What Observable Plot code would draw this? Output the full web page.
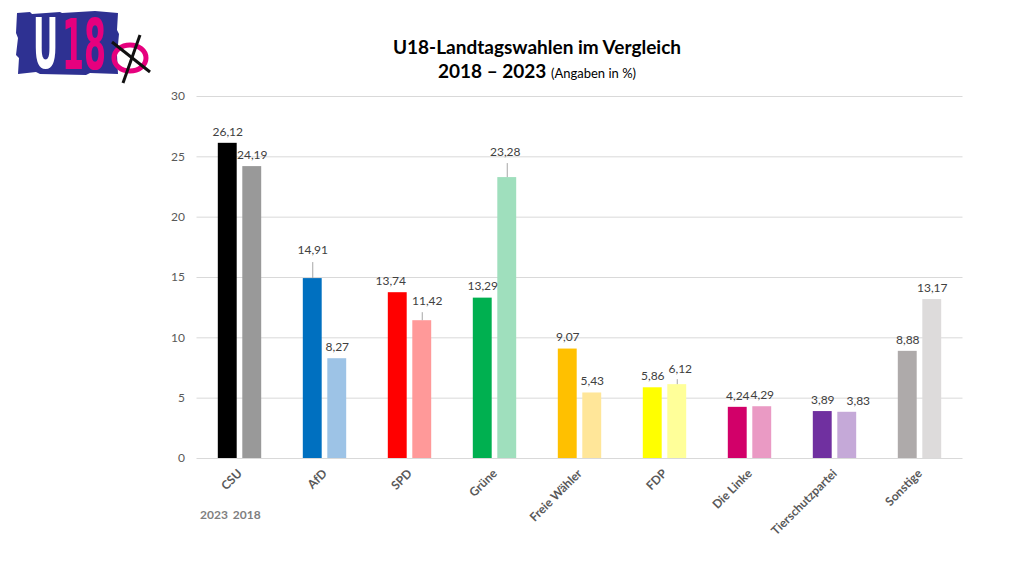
<!DOCTYPE html>
<html><head><meta charset="utf-8">
<script src="https://cdn.jsdelivr.net/npm/d3@7"></script>
<script src="https://cdn.jsdelivr.net/npm/@observablehq/plot@0.6"></script>
<style>
body{margin:0;background:#fff;font-family:Lato,"Open Sans",sans-serif;}
#wrap{position:relative;width:1024px;height:568px;overflow:hidden;}
#chart{position:absolute;left:0;top:0;}
#logo{position:absolute;left:0;top:0;}
#title{position:absolute;left:537px;top:35px;transform:translateX(-50%);text-align:center;color:#000;font-weight:bold;font-size:19px;line-height:24px;white-space:nowrap;}
#title .sub{font-weight:normal;font-size:13px;}
#years{position:absolute;left:200px;top:507px;font-size:12px;font-weight:bold;color:#7f7f7f;word-spacing:2px;}
</style></head>
<body>
<div id="wrap">
  <div id="chart"></div>
  <svg id="logo" width="170" height="90">
    <path d="M17,13 L30,12 L32,14 L60,12 L62,13 L95,11 L118,13 L117,30 L119,34 L117,55 L118,74 L90,73 L86,75 L40,74 L36,72 L18,74 L19,58 L16,55 L18,38 L16,33 Z" fill="#2e3192"/>
    <text transform="translate(33,68) scale(0.86,1.75)" fill="#ffffff" font-family="DejaVu Sans Condensed" font-weight="bold" font-size="40">U</text>
    <text transform="translate(62,69) scale(0.88,1.75)" fill="#e6007e" font-family="DejaVu Sans Condensed" font-weight="bold" font-size="40">18</text>
    <ellipse cx="130" cy="58" rx="16" ry="13" fill="none" stroke="#e6007e" stroke-width="5"/>
    <line x1="112" y1="42" x2="150" y2="72" stroke="#111" stroke-width="3"/>
    <line x1="140" y1="35" x2="123" y2="83" stroke="#111" stroke-width="3"/>
  </svg>
  <div id="title">U18-Landtagswahlen im Vergleich<br>2018 – 2023 <span class="sub">(Angaben in %)</span></div>
  <div id="years">2023 2018</div>
</div>
<script>
const parties = ["CSU","AfD","SPD","Grüne","Freie Wähler","FDP","Die Linke","Tierschutzpartei","Sonstige"];
const years = ["2023","2018"];
const values2023 = [26.12,14.91,13.74,13.29,9.07,5.86,4.24,3.89,8.88];
const values2018 = [24.19,8.27,11.42,23.28,5.43,6.12,4.29,3.83,13.17];
const colors2023 = ["#000000","#0070c0","#ff0000","#00b050","#ffc000","#ffff00","#d20069","#7030a0","#aeaaaa"];
const colors2018 = ["#999999","#9dc3e6","#ff9999","#9fdfbd","#ffe699","#ffff99","#ea9ac4","#c5a9d8","#dddbdb"];
const yTicks = [0,5,10,15,20,25,30];
// label placement tweaks (pixels), as in the original chart
const labelNudges = [
  {party:"AfD", year:"2023", dx:0, dy:-17, leader:16},
  {party:"SPD", year:"2023", dx:-7, dy:0, leader:0},
  {party:"SPD", year:"2018", dx:5, dy:-8, leader:8},
  {party:"Grüne", year:"2018", dx:-2, dy:-14, leader:14},
  {party:"FDP", year:"2018", dx:3, dy:-4, leader:5},
  {party:"Tierschutzpartei", year:"2018", dx:11, dy:0, leader:0}
];

const rows = [];
parties.forEach((p,i) => {
  rows.push({party:p, year:"2023", value:values2023[i], color:colors2023[i]});
  rows.push({party:p, year:"2018", value:values2018[i], color:colors2018[i]});
});
const fmt = v => v.toFixed(2).replace(".", ",");

const W = 1024, H = 568, mL = 196.5, mR = 61.5, mT = 96, mB = 110;
const bw = (W - mL - mR) / parties.length;
const barW = 19, gap = 5.5;
const outer = (bw - 2*barW - gap) / 2;
const off = gap/2 + barW/2;
const dxOf = y => y === "2023" ? -off : off;
const isNudged = d => labelNudges.some(n => n.party === d.party && n.year === d.year);

const marks = [
  Plot.ruleY(yTicks, {stroke:"#d9d9d9", strokeWidth:1}),
  Plot.barY(rows.filter(d => d.year === "2023"), {x:"party", y:"value", fill:"color", insetLeft:outer, insetRight:bw - outer - barW}),
  Plot.barY(rows.filter(d => d.year === "2018"), {x:"party", y:"value", fill:"color", insetLeft:outer + barW + gap, insetRight:outer}),
  Plot.axisY(yTicks, {tickSize:0, tickPadding:12, fill:"#595959", fontSize:12, label:null}),
  Plot.axisX({tickSize:0, tickPadding:13, tickRotate:-45, fill:"#595959", fontSize:12, fontWeight:"bold", label:null})
];
for (const y of years) {
  marks.push(Plot.text(rows.filter(d => d.year === y && !isNudged(d)), {
    x:"party", y:"value", text:d => fmt(d.value), dx:dxOf(y), dy:-11.5, fill:"#404040", fontSize:12
  }));
}
for (const n of labelNudges) {
  const sel = rows.filter(d => d.party === n.party && d.year === n.year);
  if (n.leader > 0) {
    marks.push(Plot.ruleX(sel, {x:"party", y1:"value", y2:"value", dx:dxOf(n.year), insetBottom:n.leader, stroke:"#a6a6a6", strokeWidth:1}));
  }
  marks.push(Plot.text(sel, {
    x:"party", y:"value", text:d => fmt(d.value), dx:dxOf(n.year) + n.dx, dy:-11.5 + n.dy, fill:"#404040", fontSize:12
  }));
}

const chart = Plot.plot({
  width:W, height:H, marginLeft:mL, marginRight:mR, marginTop:mT, marginBottom:mB,
  style:{fontFamily:"Lato, 'Open Sans', sans-serif", fontSize:"12px", background:"transparent", color:"#595959"},
  x:{domain:parties, padding:0, label:null},
  y:{domain:[0,30], label:null},
  marks
});
document.getElementById("chart").appendChild(chart);
</script>
</body></html>
